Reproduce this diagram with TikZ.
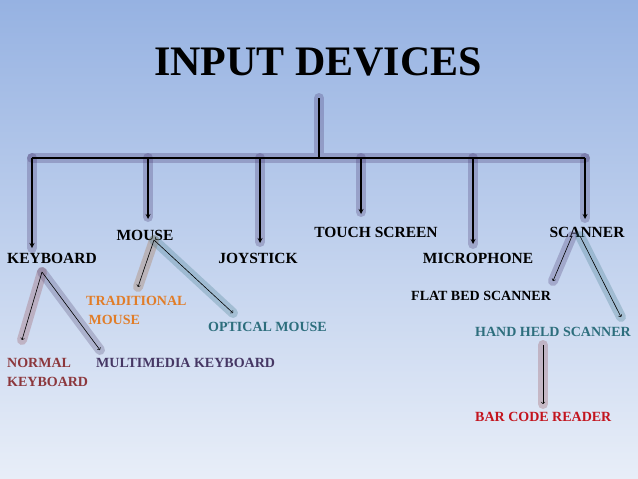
\documentclass[tikz,border=0pt]{standalone}
\usepackage{fontspec}
\setmainfont{Liberation Serif}
\begin{document}
\begin{tikzpicture}[x=1pt,y=-1pt,
  lbl/.style={font=\bfseries\fontsize{15.5}{16}\selectfont, inner sep=0pt},
  sl/.style={inner sep=0pt, anchor=west, align=left, font=\bfseries\fontsize{14}{19}\selectfont},
  main/.style={draw=black, line width=1.2pt, ->, >=stealth},
  sub/.style={draw=black, line width=0.6pt, ->},
  glow/.style={line width=10pt, opacity=0.25, line cap=round}]
\shade[top color={rgb,255:red,150;green,178;blue,226}, bottom color={rgb,255:red,232;green,238;blue,248}] (0,0) rectangle (638,479);
\useasboundingbox (0,0) rectangle (638,479);
\definecolor{glowc}{RGB}{60,40,100}
\definecolor{nk}{RGB}{140,55,60}
\definecolor{mk}{RGB}{70,55,100}
\definecolor{tm}{RGB}{225,125,40}
\definecolor{om}{RGB}{45,110,125}
\definecolor{bc}{RGB}{195,20,30}
\node[font=\bfseries\fontsize{42}{44}\selectfont, inner sep=0pt] (title) at (318,62) {INPUT DEVICES};
\coordinate (top) at (319,98);
\coordinate (mid) at (319,158);
\coordinate (L) at (32,158);
\coordinate (R) at (585,158);
\node[lbl, anchor=west] (kb) at (7,258) {KEYBOARD};
\node[lbl] (mouse) at (145,235) {MOUSE};
\node[lbl] (joy) at (258,258) {JOYSTICK};
\node[lbl] (touch) at (376,232) {TOUCH SCREEN};
\node[lbl] (mic) at (478,258) {MICROPHONE};
\node[lbl] (scan) at (587,232) {SCANNER};
\node[sl, text=nk] (nkb) at (7,372) {NORMAL\\KEYBOARD};
\node[sl, text=mk] (mkb) at (96,363) {MULTIMEDIA KEYBOARD};
\node[sl, text=tm] (tmo) at (86,310) {TRADITIONAL\\\,MOUSE};
\node[sl, text=om] (omo) at (208,327) {OPTICAL MOUSE};
\node[sl] (fbs) at (411,296) {FLAT BED SCANNER};
\node[sl, text=om] (hhs) at (475,332) {HAND HELD SCANNER};
\node[sl, text=bc] (bcr) at (475,417) {BAR CODE READER};
\coordinate (k0) at (42,272);
\coordinate (m0) at (154,240);
\coordinate (s0) at (572,236);
\coordinate (s1) at (580,236);
\coordinate (h0) at (543,345);
\coordinate (h1) at (543,404);
% glow
\draw[glow, glowc] (top) -- (mid) (L) -- (R);
\foreach \x/\y in {32/248,148/217,260/242,361/212,473/244,585/218}
  \draw[glow, glowc] (\x,158) -- (\x,\y);
\draw[glow, nk] (k0) -- (22,340);
\draw[glow, mk] (k0) -- (100,350);
\draw[glow, tm!70!black] (m0) -- (138,287);
\draw[glow, om] (m0) -- (233,313);
\draw[glow, glowc] (s0) -- (553,281);
\draw[glow, om] (s1) -- (621,317);
\draw[glow, nk] (h0) -- (h1);
% lines
\draw[line width=1.2pt] (top) -- (mid) (L) -- (R);
\draw[main] (L) -- (32,248);
\draw[main] (148,158) -- (148,219);
\draw[main] (260,158) -- (260,243);
\draw[main] (361,158) -- (361,214);
\draw[main] (473,158) -- (473,244);
\draw[main] (R) -- (585,219);
\draw[sub] (k0) -- (22,340);
\draw[sub] (k0) -- (100,350);
\draw[sub] (m0) -- (138,287);
\draw[sub] (m0) -- (233,313);
\draw[sub] (s0) -- (553,281);
\draw[sub] (s1) -- (621,317);
\draw[sub] (h0) -- (h1);
\end{tikzpicture}
\end{document}
